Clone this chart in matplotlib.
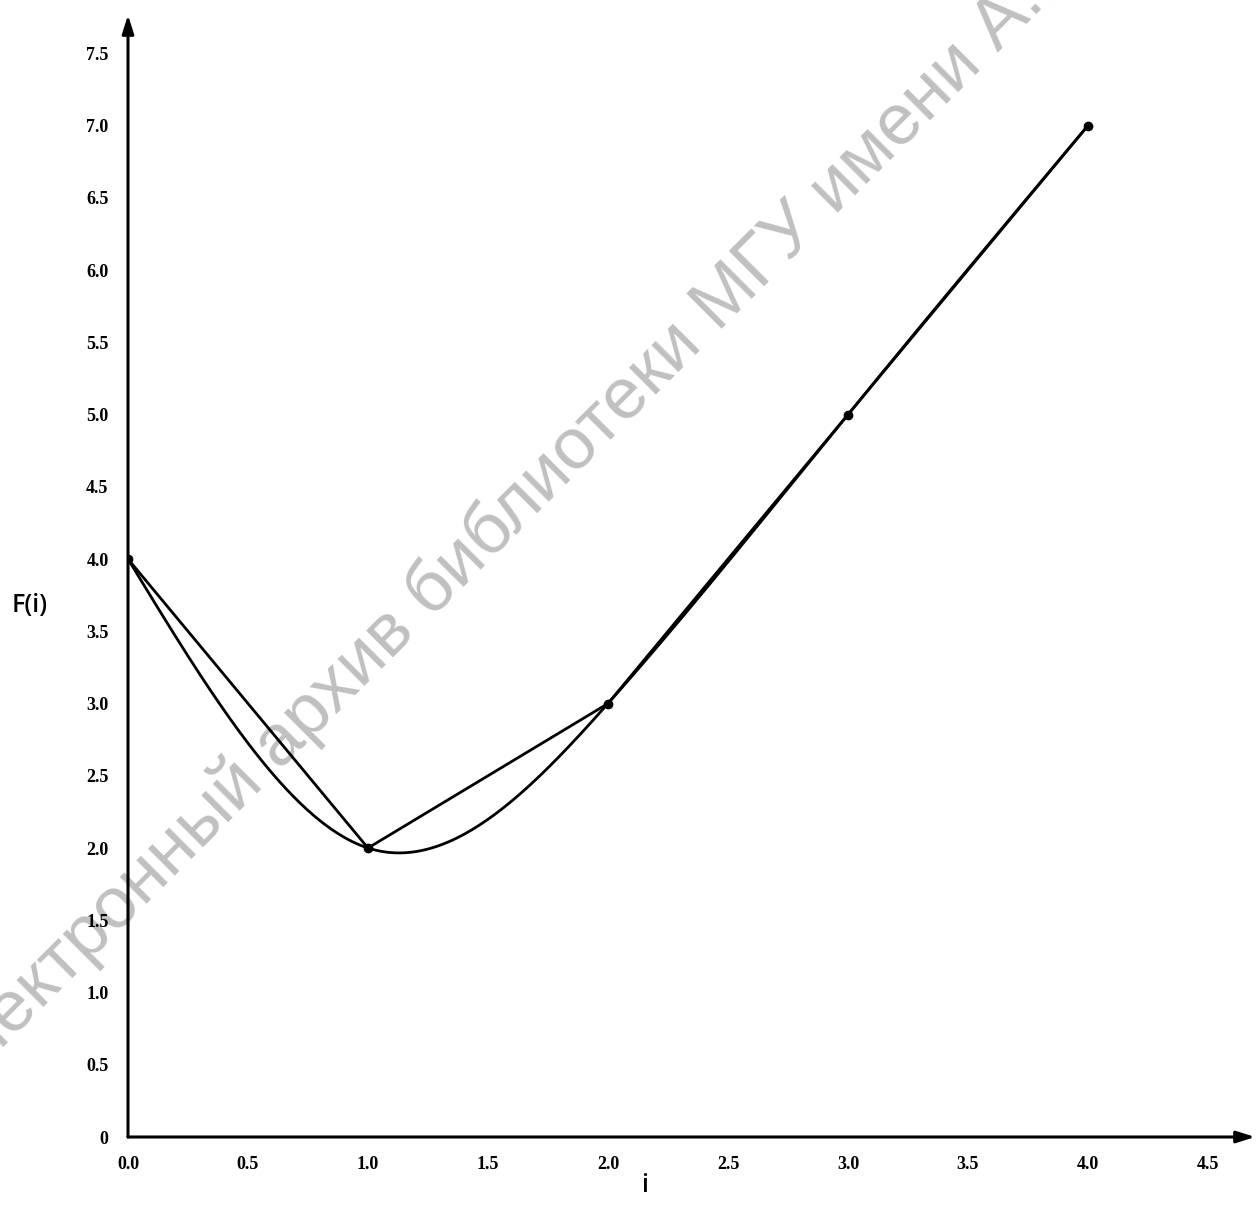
import numpy as np
import matplotlib
matplotlib.use("Agg")
import matplotlib.pyplot as plt

# data points F(i)
i_vals = [0, 1, 2, 3, 4]
f_vals = [4, 2, 3, 5, 7]

x_ticks = [0.0, 0.5, 1.0, 1.5, 2.0, 2.5, 3.0, 3.5, 4.0, 4.5]
x_labels = ["0.0", "0.5", "1.0", "1.5", "2.0", "2.5", "3.0", "3.5", "4.0", "4.5"]
y_ticks = [0, 0.5, 1.0, 1.5, 2.0, 2.5, 3.0, 3.5, 4.0, 4.5, 5.0, 5.5, 6.0, 6.5, 7.0, 7.5]
y_labels = ["0", "0.5", "1.0", "1.5", "2.0", "2.5", "3.0", "3.5", "4.0", "4.5",
            "5.0", "5.5", "6.0", "6.5", "7.0", "7.5"]

watermark = "Электронный архив библиотеки МГУ имени А.М. Горького"


def natural_spline(x, y, n=400):
    # natural cubic spline through the data points
    x = np.asarray(x, float)
    y = np.asarray(y, float)
    k = len(x)
    h = np.diff(x)
    A = np.zeros((k, k))
    b = np.zeros(k)
    A[0, 0] = A[-1, -1] = 1
    for j in range(1, k - 1):
        A[j, j - 1] = h[j - 1]
        A[j, j] = 2 * (h[j - 1] + h[j])
        A[j, j + 1] = h[j]
        b[j] = 6 * ((y[j + 1] - y[j]) / h[j] - (y[j] - y[j - 1]) / h[j - 1])
    M = np.linalg.solve(A, b)
    xs = np.linspace(x[0], x[-1], n)
    ys = np.empty_like(xs)
    for m, xv in enumerate(xs):
        j = min(np.searchsorted(x, xv, side="right") - 1, k - 2)
        t1 = x[j + 1] - xv
        t0 = xv - x[j]
        ys[m] = (M[j] * t1**3 + M[j + 1] * t0**3) / (6 * h[j]) \
            + (y[j] / h[j] - M[j] * h[j] / 6) * t1 \
            + (y[j + 1] / h[j] - M[j + 1] * h[j] / 6) * t0
    return xs, ys


W, H = 1259, 1205
fig = plt.figure(figsize=(W / 100, H / 100), dpi=100)
ax = fig.add_axes([128 / W, (H - 1137) / H, (1255 - 128) / W, (1137 - 15) / H])
ax.set_xlim(0, 4.696)
ax.set_ylim(0, 7.765)
ax.patch.set_alpha(0)

# watermark (behind the axes)
fig.text(-0.042, 0.084, watermark, rotation=45, rotation_mode="anchor",
         ha="left", va="baseline", fontsize=52, color="#c0c0c0",
         family="Liberation Sans", zorder=-1)

sx, sy = natural_spline(i_vals, f_vals)
ax.plot(sx, sy, color="black", lw=2.0, solid_capstyle="round", zorder=3)
ax.plot(i_vals, f_vals, color="black", lw=2.0, marker="o", markersize=6,
        zorder=4)

for s in ax.spines.values():
    s.set_visible(False)

arrow = dict(arrowstyle="-|>,head_length=1.1,head_width=0.35", color="black",
             lw=2.2, shrinkA=0, shrinkB=0)
ax.annotate("", xy=(1, 0), xytext=(0, 0), xycoords="axes fraction",
            arrowprops=arrow, zorder=5)
ax.annotate("", xy=(0, 1), xytext=(0, 0), xycoords="axes fraction",
            arrowprops=arrow, zorder=5)

ax.set_xticks(x_ticks)
ax.set_xticklabels(x_labels)
ax.set_yticks(y_ticks)
ax.set_yticklabels(y_labels)
ax.tick_params(length=0, pad=14, labelsize=13)
for lab in ax.get_xticklabels() + ax.get_yticklabels():
    lab.set_family("Liberation Serif")
    lab.set_fontweight("bold")

fig.text(30 / W, 1 - 605 / H, "F(i)", ha="center", va="center",
         fontsize=18, fontweight="semibold", family="Open Sans")
fig.text(645 / W, 1 - 1185 / H, "i", ha="center", va="center",
         fontsize=18, fontweight="semibold", family="Open Sans")

fig.savefig("out.png", dpi=100)
